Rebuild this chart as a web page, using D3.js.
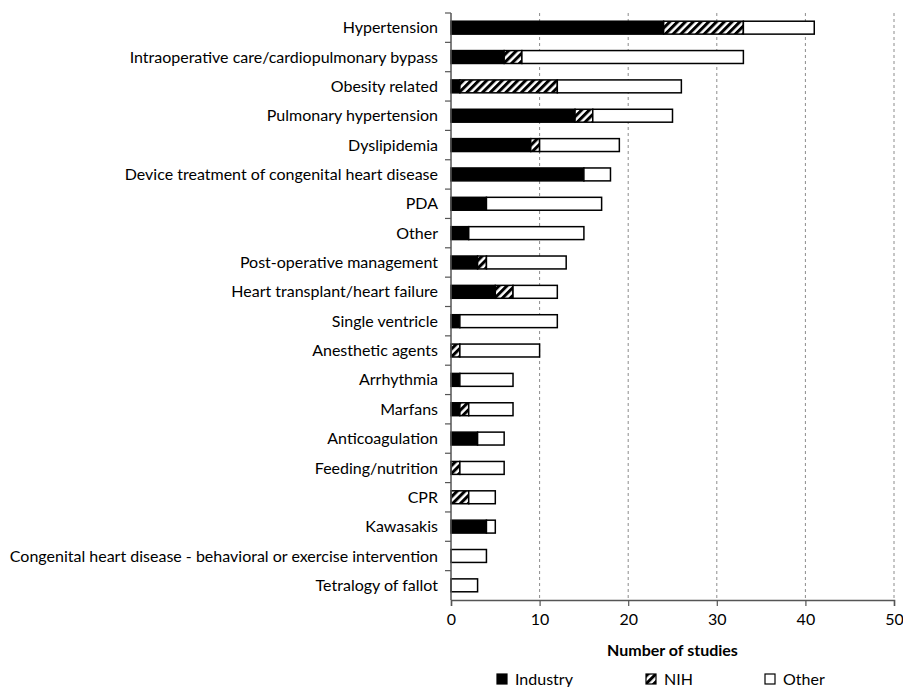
<!DOCTYPE html>
<html>
<head>
<meta charset="utf-8">
<script src="https://cdn.jsdelivr.net/npm/d3@7"></script>
<style>
  body { margin: 0; background: #fff; }
  svg { font-family: Lato, "Open Sans", sans-serif; }
</style>
</head>
<body>
<svg width="903" height="687"></svg>
<script>
var categories = [
  "Hypertension",
  "Intraoperative care/cardiopulmonary bypass",
  "Obesity related",
  "Pulmonary hypertension",
  "Dyslipidemia",
  "Device treatment of congenital heart disease",
  "PDA",
  "Other",
  "Post-operative management",
  "Heart transplant/heart failure",
  "Single ventricle",
  "Anesthetic agents",
  "Arrhythmia",
  "Marfans",
  "Anticoagulation",
  "Feeding/nutrition",
  "CPR",
  "Kawasakis",
  "Congenital heart disease - behavioral or exercise intervention",
  "Tetralogy of fallot"
];
var industry = [24, 6, 1, 14, 9, 15, 4, 2, 3, 5, 1, 0, 1, 1, 3, 0, 0, 4, 0, 0];
var nih      = [9, 2, 11, 2, 1, 0, 0, 0, 1, 2, 0, 1, 0, 1, 0, 1, 2, 0, 0, 0];
var other    = [8, 25, 14, 9, 9, 3, 13, 13, 9, 5, 11, 9, 6, 5, 3, 5, 3, 1, 4, 3];
var seriesNames = ["Industry", "NIH", "Other"];
var xTicks = [0, 10, 20, 30, 40, 50];

var svg = d3.select("svg");
var margin = {left: 451, right: 9, top: 13, bottom: 87};
var width = 903 - margin.left - margin.right,
    height = 687 - margin.top - margin.bottom;
var fontSize = 16;

var defs = svg.append("defs");
var pat = defs.append("pattern")
    .attr("id", "hatch")
    .attr("patternUnits", "userSpaceOnUse")
    .attr("width", 5.5)
    .attr("height", 5.5)
    .attr("patternTransform", "rotate(45)");
pat.append("rect").attr("width", 5.5).attr("height", 5.5).attr("fill", "#fff");
pat.append("rect").attr("width", 3).attr("height", 5.5).attr("fill", "#000");

var fills = ["#000", "url(#hatch)", "#fff"];

var rows = categories.map(function(c, i) {
  return {name: c, Industry: industry[i], NIH: nih[i], Other: other[i]};
});
var stacked = d3.stack().keys(seriesNames)(rows);

var x = d3.scaleLinear().domain([0, 50]).range([0, width]);
var y = d3.scaleBand().domain(categories).range([0, height]).paddingInner(0.56).paddingOuter(0.28);

var g = svg.append("g").attr("transform", "translate(" + margin.left + "," + margin.top + ")");

// gridlines
g.append("g")
  .selectAll("line")
  .data(xTicks.slice(1))
  .enter().append("line")
    .attr("x1", function(d) { return x(d); })
    .attr("x2", function(d) { return x(d); })
    .attr("y1", 0)
    .attr("y2", height)
    .attr("stroke", "#8c8c8c")
    .attr("stroke-width", 1)
    .attr("stroke-dasharray", "3,3");

// bars
g.append("g")
  .selectAll("g")
  .data(stacked)
  .enter().append("g")
    .attr("fill", function(d, i) { return fills[i]; })
  .selectAll("rect")
  .data(function(d) { return d.filter(function(v) { return v[1] > v[0]; }); })
  .enter().append("rect")
    .attr("x", function(d) { return x(d[0]); })
    .attr("y", function(d) { return y(d.data.name); })
    .attr("width", function(d) { return x(d[1]) - x(d[0]); })
    .attr("height", y.bandwidth())
    .attr("stroke", "#000")
    .attr("stroke-width", 1.5);

// left axis: labels + boundary ticks
var step = y.step();
g.append("line")
  .attr("x1", 0).attr("x2", 0).attr("y1", 0).attr("y2", height)
  .attr("stroke", "#555").attr("stroke-width", 1.5);
g.append("g")
  .selectAll("line")
  .data(d3.range(categories.length))
  .enter().append("line")
    .attr("x1", -6).attr("x2", 0)
    .attr("y1", function(d) { return d * step; })
    .attr("y2", function(d) { return d * step; })
    .attr("stroke", "#555").attr("stroke-width", 1.2);
g.append("g")
  .selectAll("text")
  .data(categories)
  .enter().append("text")
    .attr("x", -13)
    .attr("y", function(d) { return y(d) + y.bandwidth() / 2; })
    .attr("dy", "0.35em")
    .attr("text-anchor", "end")
    .attr("font-size", fontSize)
    .attr("fill", "#000")
    .text(function(d) { return d; });

// bottom axis
var xAxis = g.append("g")
  .attr("transform", "translate(0," + height + ")")
  .call(d3.axisBottom(x).tickValues(xTicks).tickSize(6).tickPadding(8));
xAxis.select(".domain").attr("stroke", "#555").attr("stroke-width", 1.5);
xAxis.selectAll(".tick line").attr("stroke", "#555").attr("stroke-width", 1.2);
xAxis.selectAll(".tick text").attr("font-size", fontSize).attr("fill", "#000")
  .attr("font-family", "Lato, 'Open Sans', sans-serif");

g.append("text")
  .attr("x", width / 2)
  .attr("y", height + 56)
  .attr("text-anchor", "middle")
  .attr("font-size", fontSize)
  .attr("font-weight", "bold")
  .attr("fill", "#000")
  .text("Number of studies");

// legend
var legendX = [497, 646, 765];
var legend = svg.append("g");
seriesNames.forEach(function(s, i) {
  var lg = legend.append("g").attr("transform", "translate(" + legendX[i] + ",674)");
  lg.append("rect")
    .attr("width", 10).attr("height", 10)
    .attr("fill", fills[i])
    .attr("stroke", "#000").attr("stroke-width", 1.2);
  lg.append("text")
    .attr("x", 18).attr("y", 5)
    .attr("dy", "0.35em")
    .attr("font-size", fontSize)
    .attr("fill", "#000")
    .text(s);
});
</script>
</body>
</html>
